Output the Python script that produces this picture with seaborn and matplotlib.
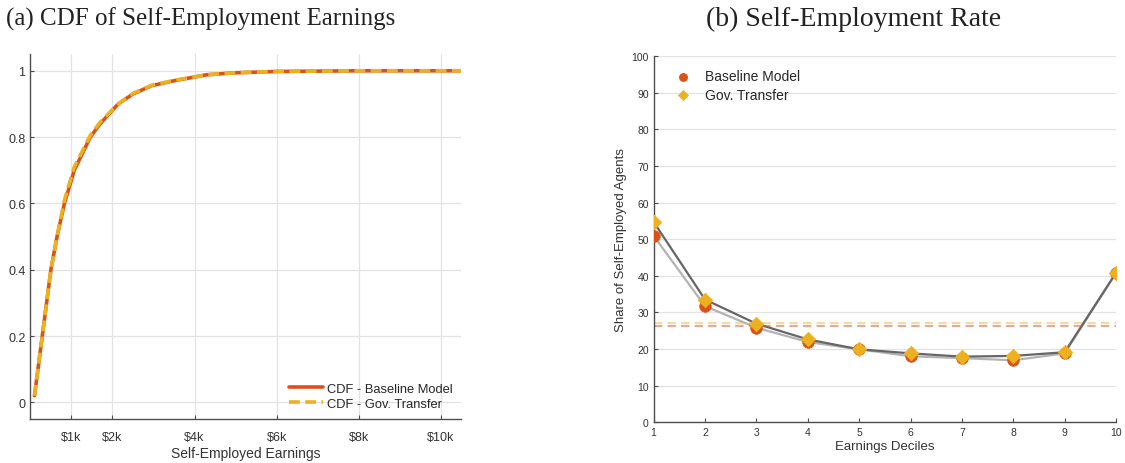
import numpy as np
import pandas as pd
import matplotlib
matplotlib.use("Agg")
import matplotlib.pyplot as plt
import seaborn as sns

# panel (a): CDF of self-employment earnings
earnings = [100, 290, 500, 650, 830, 1070, 1460, 1700, 2140, 2500, 2950,
            3500, 4300, 5000, 6000, 8000, 10500]
cdf_baseline = [0.02, 0.2, 0.4, 0.5, 0.6, 0.7, 0.8, 0.84, 0.9, 0.93, 0.955,
                0.97, 0.988, 0.994, 0.998, 1.0, 1.0]
cdf_transfer = [0.02, 0.2, 0.4, 0.5, 0.61, 0.71, 0.805, 0.845, 0.9, 0.932, 0.956,
                0.971, 0.988, 0.994, 0.998, 1.0, 1.0]
earn_ticks = [1000, 2000, 4000, 6000, 8000, 10000]
earn_labels = ['$1k', '$2k', '$4k', '$6k', '$8k', '$10k']

# panel (b): self-employment rate by earnings decile
deciles = [1, 2, 3, 4, 5, 6, 7, 8, 9, 10]
rate_baseline = [50.9, 31.7, 25.8, 21.9, 19.9, 18.0, 17.5, 16.9, 18.8, 40.7]
rate_transfer = [54.7, 33.5, 26.9, 22.6, 19.9, 18.8, 17.9, 18.1, 19.1, 40.8]
avg_baseline = 26.2
avg_transfer = 27.1

RED = '#D95319'
YELLOW = '#EDB120'

sns.set_theme(style="whitegrid")
plt.rcParams['font.family'] = ['Liberation Sans', 'DejaVu Sans']

fig = plt.figure(figsize=(11.25, 4.64), dpi=100)
ax1 = fig.add_axes([0.027, 0.095, 0.383, 0.786])
ax2 = fig.add_axes([0.581, 0.088, 0.411, 0.789])

for ax in (ax1, ax2):
    ax.set_facecolor('white')
    ax.grid(True, color='#e3e3e3', lw=0.9)
    for s in ('top', 'right'):
        ax.spines[s].set_visible(False)
    for s in ('left', 'bottom'):
        ax.spines[s].set_color('#4d4d4d')
        ax.spines[s].set_linewidth(1.0)
    ax.tick_params(direction='in', length=3, width=0.8, color='#4d4d4d',
                   labelcolor='#333333', left=True, bottom=True)
ax2.grid(False, axis='x')

# panel (a)
cdf = pd.DataFrame({'x': earnings, 'base': cdf_baseline, 'trans': cdf_transfer})
sns.lineplot(data=cdf, x='x', y='base', ax=ax1, color=RED, lw=2.6,
             label='CDF - Baseline Model')
sns.lineplot(data=cdf, x='x', y='trans', ax=ax1, color=YELLOW, lw=2.6,
             linestyle=(0, (3, 1.5)), label='CDF - Gov. Transfer')
ax1.set_xlim(0, 10500)
ax1.set_ylim(-0.05, 1.05)
ax1.set_xticks(earn_ticks)
ax1.set_xticklabels(earn_labels)
ax1.set_yticks([0, 0.2, 0.4, 0.6, 0.8, 1])
ax1.set_yticklabels(['0', '0.2', '0.4', '0.6', '0.8', '1'])
ax1.tick_params(labelsize=9)
ax1.tick_params(axis='x', pad=9)
ax1.set_xlabel('Self-Employed Earnings', fontsize=10, color='#333333', labelpad=2)
ax1.set_ylabel('')
ax1.legend(loc='lower right', frameon=False, fontsize=9.3, handlelength=2.6,
           handletextpad=0.3, labelspacing=0.25, borderaxespad=0.3)

# panel (b)
rate = pd.DataFrame({'decile': deciles, 'base': rate_baseline, 'trans': rate_transfer})
sns.lineplot(data=rate, x='decile', y='base', ax=ax2, color='#b3b3b3', lw=1.6)
sns.lineplot(data=rate, x='decile', y='trans', ax=ax2, color='#666666', lw=1.6)
ax2.axhline(avg_baseline, color=RED, alpha=0.5, lw=1.5, ls=(0, (4, 2.5)))
ax2.axhline(avg_transfer, color=YELLOW, alpha=0.45, lw=1.5, ls=(0, (4, 2.5)))
sns.scatterplot(data=rate, x='decile', y='base', ax=ax2, color=RED, marker='o',
                s=70, edgecolor=RED, linewidth=0.5, zorder=5, label='Baseline Model')
sns.scatterplot(data=rate, x='decile', y='trans', ax=ax2, color=YELLOW, marker='D',
                s=55, edgecolor=YELLOW, linewidth=0.5, zorder=6, label='Gov. Transfer')
ax2.set_xlim(1, 10)
ax2.set_ylim(0, 100)
ax2.set_xticks(deciles)
ax2.set_yticks(range(0, 101, 10))
ax2.tick_params(labelsize=7.5)
ax2.set_xlabel('Earnings Deciles', fontsize=9.5, color='#333333', labelpad=2)
ax2.set_ylabel('Share of Self-Employed Agents', fontsize=9.5, color='#333333',
               labelpad=3)
ax2.legend(loc='upper left', frameon=False, fontsize=10, markerscale=0.7,
           handletextpad=0.6, labelspacing=0.3, borderaxespad=0.3,
           bbox_to_anchor=(0.013, 0.99))

fig.text(0.178, 0.958, '(a) CDF of Self-Employment Earnings', ha='center', va='center',
         fontsize=18, family='Liberation Serif', color='#222222')
fig.text(0.759, 0.958, '(b) Self-Employment Rate', ha='center', va='center',
         fontsize=20, family='Liberation Serif', color='#222222')

fig.savefig('out.png', dpi=100)
